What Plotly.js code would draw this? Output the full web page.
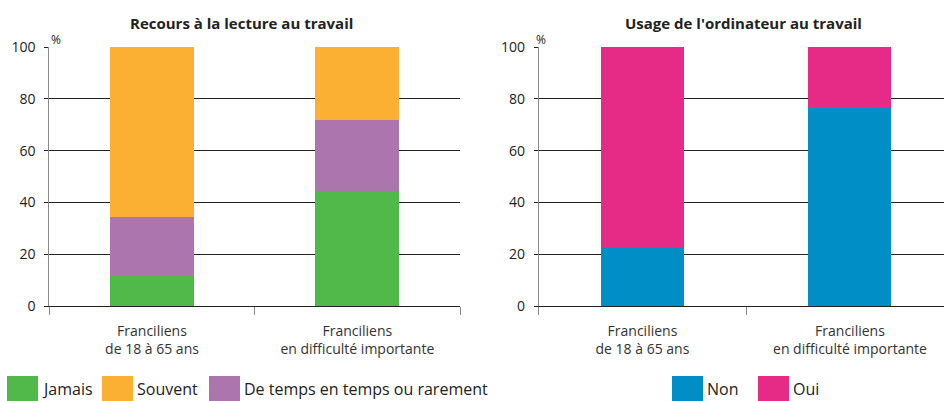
<!DOCTYPE html>
<html>
<head>
<meta charset="utf-8">
<script src="https://cdn.plot.ly/plotly-3.0.1.min.js"></script>
<style>html,body{margin:0;padding:0;background:#fff;}#chart{width:944px;height:401px;}</style>
</head>
<body>
<div id="chart"></div>
<script>
// ---- Data ----
var categories = ["Franciliens<br>de 18 à 65 ans", "Franciliens<br>en difficulté importante"];
var lectureJamais = [11.5, 44.5];
var lectureTemps = [23, 27.5];
var lectureSouvent = [65.5, 28];
var ordiNon = [22.5, 76.5];
var ordiOui = [77.5, 23.5];
var yTicks = [0, 20, 40, 60, 80, 100];
var titleLeft = "Recours à la lecture au travail";
var titleRight = "Usage de l'ordinateur au travail";
var legendLeft = ["Jamais", "Souvent", "De temps en temps ou rarement"];
var legendRight = ["Non", "Oui"];

// ---- Styles ----
var C = {jamais: "#51b84a", souvent: "#fbb034", temps: "#ac75ad", non: "#008ec7", oui: "#e52b86"};
var FONT = "Open Sans, sans-serif";
var W = 944, H = 401;
function px(x) { return x / W; }
function py(y) { return 1 - y / H; }

var traces = [
  {type: "bar", x: categories, y: lectureJamais, name: legendLeft[0], marker: {color: C.jamais}, width: 0.41, xaxis: "x", yaxis: "y", hoverinfo: "y"},
  {type: "bar", x: categories, y: lectureTemps, name: legendLeft[2], marker: {color: C.temps}, width: 0.41, xaxis: "x", yaxis: "y", hoverinfo: "y"},
  {type: "bar", x: categories, y: lectureSouvent, name: legendLeft[1], marker: {color: C.souvent}, width: 0.41, xaxis: "x", yaxis: "y", hoverinfo: "y"},
  {type: "bar", x: categories, y: ordiNon, name: legendRight[0], marker: {color: C.non}, width: 0.40, xaxis: "x2", yaxis: "y2", hoverinfo: "y"},
  {type: "bar", x: categories, y: ordiOui, name: legendRight[1], marker: {color: C.oui}, width: 0.40, xaxis: "x2", yaxis: "y2", hoverinfo: "y"}
];

var yDom = [py(306), py(47)];
function yAxis(anchor) {
  return {
    domain: yDom, anchor: anchor, range: [0, 100], tickvals: yTicks,
    showgrid: true, gridcolor: "#222", gridwidth: 1.2,
    zeroline: false, showline: true, linecolor: "#8a8a8a", linewidth: 1,
    ticks: "outside", ticklen: 4, tickcolor: "#222",
    ticklabelstandoff: 6,
    tickfont: {family: FONT, size: 14, color: "#222"}, fixedrange: true
  };
}
function xAxis(anchor, domain, range) {
  return {
    domain: domain, anchor: anchor, type: "category", range: range,
    showline: true, linecolor: "#222", linewidth: 1.2,
    ticks: "outside", tickson: "boundaries", ticklen: 8, tickcolor: "#8a8a8a",
    ticklabelstandoff: 12,
    showgrid: false, tickfont: {family: FONT, size: 14, color: "#333"}, fixedrange: true
  };
}

var leftX0 = 49.3, rightX0 = 538.7;
var layout = {
  width: W, height: H,
  margin: {l: 0, r: 0, t: 0, b: 0},
  paper_bgcolor: "#fff", plot_bgcolor: "rgba(0,0,0,0)",
  barmode: "stack", showlegend: false,
  font: {family: FONT, color: "#222"},
  xaxis: xAxis("y", [px(leftX0), px(460)], [-0.5, 1.5]),
  yaxis: yAxis("x"),
  xaxis2: xAxis("y2", [px(rightX0), 1], [-0.5, -0.5 + (W - rightX0) / 207.5]),
  yaxis2: yAxis("x2"),
  annotations: [
    {text: "<b>" + titleLeft + "</b>", xref: "paper", yref: "paper", x: px(242), y: py(23), xanchor: "center", yanchor: "middle", showarrow: false, font: {family: FONT, size: 15, color: "#222"}},
    {text: "<b>" + titleRight + "</b>", xref: "paper", yref: "paper", x: px(743), y: py(23), xanchor: "center", yanchor: "middle", showarrow: false, font: {family: FONT, size: 15, color: "#222"}},
    {text: "%", xref: "paper", yref: "paper", x: px(leftX0), y: py(39), xanchor: "left", yanchor: "middle", showarrow: false, font: {family: FONT, size: 12, color: "#222"}},
    {text: "%", xref: "paper", yref: "paper", x: px(rightX0 - 5), y: py(39), xanchor: "left", yanchor: "middle", showarrow: false, font: {family: FONT, size: 12, color: "#222"}}
  ],
  shapes: []
};

// Custom legends (big squares like the original)
var legItems = [
  {label: legendLeft[0], color: C.jamais, x: 7},
  {label: legendLeft[1], color: C.souvent, x: 102},
  {label: legendLeft[2], color: C.temps, x: 209},
  {label: legendRight[0], color: C.non, x: 672},
  {label: legendRight[1], color: C.oui, x: 758}
];
legItems.forEach(function (it) {
  layout.shapes.push({type: "rect", xref: "paper", yref: "paper", x0: px(it.x), x1: px(it.x + 31), y0: py(405), y1: py(376), fillcolor: it.color, line: {width: 0}});
  layout.annotations.push({text: it.label, xref: "paper", yref: "paper", x: px(it.x + 34), y: py(401), xanchor: "left", yanchor: "bottom", borderpad: 0, showarrow: false, font: {family: FONT, size: 16, color: "#222"}});
});

Plotly.newPlot("chart", traces, layout, {displayModeBar: false, staticPlot: true});
</script>
</body>
</html>
